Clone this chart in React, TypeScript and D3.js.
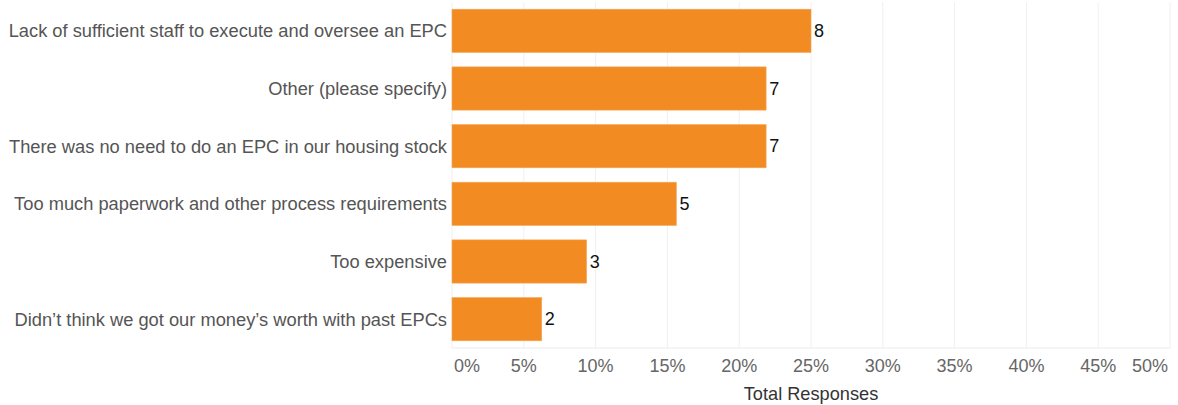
import React from "react";
import * as d3 from "d3";

const categories = [
  "Lack of sufficient staff to execute and oversee an EPC",
  "Other (please specify)",
  "There was no need to do an EPC in our housing stock",
  "Too much paperwork and other process requirements",
  "Too expensive",
  "Didn\u2019t think we got our money\u2019s worth with past EPCs",
];
const counts = [8, 7, 7, 5, 3, 2];
const totalRespondents = 32;
const xTicks = [0, 0.05, 0.1, 0.15, 0.2, 0.25, 0.3, 0.35, 0.4, 0.45, 0.5];
const xAxisTitle = "Total Responses";

const W = 1178;
const H = 405;
const FONT = "'Liberation Sans', Arial, sans-serif";

export default function App() {
  const x = d3.scaleLinear().domain([0, 0.5]).range([452, 1170]);
  const y = d3
    .scaleBand<string>()
    .domain(categories)
    .range([2, 348])
    .paddingInner(0.25)
    .paddingOuter(0.125);
  const fmt = d3.format(".0%");
  const axisY = 348;

  return (
    <svg
      width={W}
      height={H}
      style={{ position: "absolute", left: 0, top: 0, display: "block" }}
      fontFamily={FONT}
    >
      <rect x={0} y={0} width={W} height={H} fill="#ffffff" />
      {xTicks.map((t) => (
        <line
          key={"g" + t}
          x1={x(t)}
          x2={x(t)}
          y1={2}
          y2={axisY}
          stroke="#f0f0f0"
          strokeWidth={1}
        />
      ))}
      <line x1={x(0)} x2={x(0.5)} y1={axisY} y2={axisY} stroke="#ebebeb" strokeWidth={1} />
      {categories.map((c, i) => {
        const v = counts[i] / totalRespondents;
        const yy = y(c)!;
        const bw = y.bandwidth();
        return (
          <g key={c}>
            <rect
              x={x(0)}
              y={yy}
              width={x(v) - x(0)}
              height={bw}
              fill="#f18b22"
              stroke="#f5a85a"
              strokeWidth={0.6}
            />
            <text
              x={447}
              y={yy + bw / 2}
              dy="0.35em"
              textAnchor="end"
              fontSize={18.3}
              fill="#555555"
            >
              {c}
            </text>
            <text
              x={x(v) + 3}
              y={yy + bw / 2}
              dy="0.35em"
              textAnchor="start"
              fontSize={18}
              fill="#111111"
            >
              {counts[i]}
            </text>
          </g>
        );
      })}
      {xTicks.map((t, i) => {
        const first = i === 0;
        const last = i === xTicks.length - 1;
        return (
          <text
            key={"t" + t}
            x={first ? x(t) + 2 : last ? x(t) - 2 : x(t)}
            y={366}
            dy="0.35em"
            textAnchor={first ? "start" : last ? "end" : "middle"}
            fontSize={18}
            fill="#666666"
          >
            {fmt(t)}
          </text>
        );
      })}
      <text
        x={811}
        y={394}
        dy="0.35em"
        textAnchor="middle"
        fontSize={18.2}
        fill="#333333"
      >
        {xAxisTitle}
      </text>
    </svg>
  );
}
